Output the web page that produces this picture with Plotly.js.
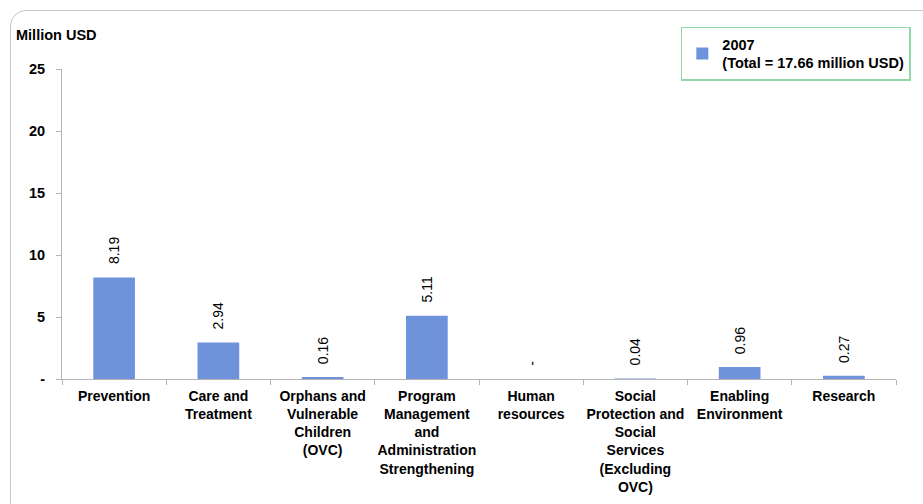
<!DOCTYPE html>
<html>
<head>
<meta charset="utf-8">
<script src="https://cdn.plot.ly/plotly-3.0.1.min.js"></script>
<style>
html,body{margin:0;padding:0;background:#fff;overflow:hidden;}
#chart{width:923px;height:504px;position:absolute;left:0;top:0;}
#frame{position:absolute;left:10px;top:10px;width:940px;height:540px;border:1.5px solid #c4c4c4;border-radius:16px;pointer-events:none;}
</style>
</head>
<body>
<div id="chart"></div>
<div id="frame"></div>
<script>
var categories = [
  "Prevention",
  "Care and<br>Treatment",
  "Orphans and<br>Vulnerable<br>Children<br>(OVC)",
  "Program<br>Management<br>and<br>Administration<br>Strengthening",
  "Human<br>resources",
  "Social<br>Protection and<br>Social<br>Services<br>(Excluding<br>OVC)",
  "Enabling<br>Environment",
  "Research"
];
var values2007 = [8.19, 2.94, 0.16, 5.11, 0, 0.04, 0.96, 0.27];
var valueLabels = ["8.19", "2.94", "0.16", "5.11", "-", "0.04", "0.96", "0.27"];
var seriesName = "2007<br>(Total = 17.66 million USD)";
var yTickVals = [0, 5, 10, 15, 20, 25];
var yTickText = ["-", "5", "10", "15", "20", "25"];

var FONT = "Liberation Sans, Arial, sans-serif";

var trace = {
  type: "bar",
  x: categories,
  y: values2007,
  name: seriesName,
  marker: {color: "#6F93DB"},
  width: 0.4,
  hoverinfo: "x+y"
};

var annotations = categories.map(function(c, i){
  return {
    x: c, y: values2007[i], xref: "x", yref: "y",
    text: valueLabels[i], showarrow: false, textangle: -90,
    yanchor: "bottom", xanchor: "center", yshift: 11,
    font: {family: FONT, size: 14, color: "#000"}
  };
});
annotations.push({
  xref: "paper", yref: "paper", x: -0.058, y: 1.11, xanchor: "left", yanchor: "middle",
  text: "<b>Million USD</b>", showarrow: false,
  font: {family: FONT, size: 14.5, color: "#000"}
});

var layout = {
  width: 923, height: 504,
  margin: {l: 62, r: 14, t: 69, b: 125},
  paper_bgcolor: "rgba(0,0,0,0)",
  plot_bgcolor: "rgba(0,0,0,0)",
  font: {family: FONT, size: 14, color: "#000"},
  showlegend: true,
  legend: {
    x: 0.742, y: 1.137, xanchor: "left", yanchor: "top",
    bordercolor: "#8fd9a6", borderwidth: 1.5, bgcolor: "#fff",
    font: {family: FONT, size: 14.5, color: "#000", weight: "bold"},
    itemwidth: 30
  },
  xaxis: {
    type: "category",
    tickangle: 0,
    showline: true, linecolor: "#b5b5b5", linewidth: 1,
    ticks: "outside", tickson: "boundaries", ticklen: 5, tickcolor: "#b5b5b5",
    ticklabelstandoff: 4,
    tickfont: {family: FONT, size: 14, color: "#000", weight: "bold"},
    showgrid: false, zeroline: false, fixedrange: true
  },
  yaxis: {
    range: [0, 25],
    tickvals: yTickVals, ticktext: yTickText,
    showline: true, linecolor: "#b5b5b5", linewidth: 1,
    ticks: "outside", ticklen: 5, tickcolor: "#b5b5b5",
    ticklabelstandoff: 8,
    tickfont: {family: FONT, size: 14.5, color: "#000", weight: "bold"},
    showgrid: false, zeroline: false, fixedrange: true
  },
  annotations: annotations
};

Plotly.newPlot("chart", [trace], layout, {displayModeBar: false, staticPlot: true});
</script>
</body>
</html>
